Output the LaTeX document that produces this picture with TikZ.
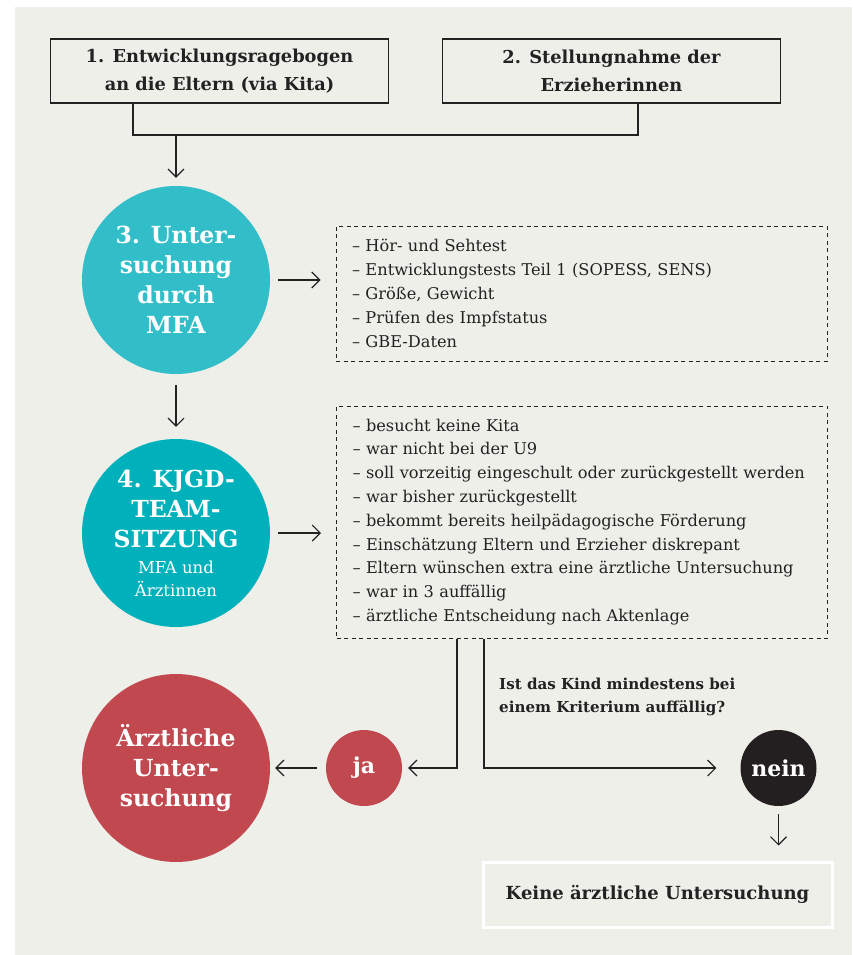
\documentclass[tikz,border=0pt]{standalone}
\usepackage{fontspec}
\setmainfont{DejaVu Serif}
\usetikzlibrary{arrows.meta,positioning}
\definecolor{panelbg}{HTML}{EFEFEA}
\definecolor{tealA}{HTML}{31BEC8}
\definecolor{tealB}{HTML}{00B0BA}
\definecolor{redC}{HTML}{C0484E}
\definecolor{nearblack}{HTML}{231F20}
\definecolor{ink}{HTML}{222222}
\tikzset{
  link/.style={ink, line width=1.1pt},
  arr/.style={link, -{Straight Barb[length=8pt,width=16pt,line width=1.1pt]}},
  headbox/.style={draw=ink, line width=1.3pt, minimum width=338pt, minimum height=64pt,
    align=center, text=ink, font=\bfseries\fontsize{17.8}{28}\selectfont},
  bigdot/.style={circle, minimum size=188pt, inner sep=0pt, text=white, align=center,
    font=\bfseries\fontsize{23.5}{30}\selectfont},
  smalldot/.style={circle, minimum size=76pt, inner sep=0pt, text=white,
    font=\bfseries\fontsize{22}{24}\selectfont},
  listbox/.style={draw=ink, line width=1pt, dash pattern=on 4pt off 3.5pt, text=ink,
    text width=459pt, align=left, inner xsep=16pt, inner ysep=0pt,
    font=\fontsize{16.2}{23.8}\selectfont},
  question/.style={text=ink, align=left, inner sep=0pt,
    font=\bfseries\fontsize{15.1}{23}\selectfont}
}
\begin{document}
\begin{tikzpicture}[x=1pt,y=-1pt]
\useasboundingbox (0,0) rectangle (852,955);
\fill[panelbg] (15,7) rectangle (852,955);

\node[headbox] (fragebogen) at (219.5,71) {1. Entwicklungsragebogen\\an die Eltern (via Kita)};
\node[headbox] (stellung) at (611.5,71) {2. Stellungnahme der\\Erzieherinnen};
\coordinate (leftdrop) at (133,135);
\coordinate (rightdrop) at (638,135);
\coordinate (merge) at (176,135);
\draw[link] (fragebogen.south -| leftdrop) -- (leftdrop) -- (rightdrop) -- (stellung.south -| rightdrop);

\node[bigdot, fill=tealA] (mfa) at (176,280) {3. Unter-\\suchung\\durch\\MFA};
\draw[arr, shorten >=8pt] (merge) -- (mfa);

\node[listbox, minimum height=135pt] (tests) at (581.5,293.5) {%
– Hör- und Sehtest\\
– Entwicklungstests Teil 1 (SOPESS, SENS)\\
– Größe, Gewicht\\
– Prüfen des Impfstatus\\
– GBE-Daten};
\draw[arr, shorten <=8pt, shorten >=15pt] (mfa.east) -- (mfa.east -| tests.west);

\node[bigdot, fill=tealB] (team) at (176,533) {4. KJGD-\\TEAM-\\SITZUNG\\[-4pt]
  \fontsize{16.5}{23}\selectfont\mdseries MFA und\\[-7pt]
  \fontsize{16.5}{23}\selectfont\mdseries Ärztinnen};
\draw[arr, shorten <=11pt, shorten >=12pt] (mfa) -- (team);

\node[listbox, minimum height=232pt] (checks) at (582,522) {%
– besucht keine Kita\\
– war nicht bei der U9\\
– soll vorzeitig eingeschult oder zurückgestellt werden\\
– war bisher zurückgestellt\\
– bekommt bereits heilpädagogische Förderung\\
– Einschätzung Eltern und Erzieher diskrepant\\
– Eltern wünschen extra eine ärztliche Untersuchung\\
– war in 3 auffällig\\
– ärztliche Entscheidung nach Aktenlage};
\draw[arr, shorten <=8pt, shorten >=15pt] (team.east) -- (team.east -| checks.west);

\node[bigdot, fill=redC] (arzt) at (176,768) {Ärztliche\\Unter-\\suchung};
\node[smalldot, fill=redC] (ja) at (364,768) {ja};
\node[smalldot, fill=nearblack] (nein) at (778.5,768) {nein};
\node[question, anchor=west] (frage) at (499,696.5) {Ist das Kind mindestens bei\\einem Kriterium auffällig?};
\node[draw=white, line width=3pt, minimum width=349pt, minimum height=65pt, text=ink,
  font=\bfseries\fontsize{18}{20}\selectfont] (keine) at (657.5,894.5) {Keine ärztliche Untersuchung};

\coordinate (yesturn) at (457,768);
\coordinate (noturn) at (484,768);
\draw[arr, shorten >=6pt] (checks.south -| yesturn) -- (yesturn) -- (ja);
\draw[arr, shorten >=24pt] (checks.south -| noturn) -- (noturn) -- (nein);
\draw[arr, shorten <=9pt, shorten >=5pt] (ja) -- (arzt);
\draw[arr, shorten <=8pt, shorten >=15pt] (nein) -- (keine.north -| nein);
\end{tikzpicture}
\end{document}
